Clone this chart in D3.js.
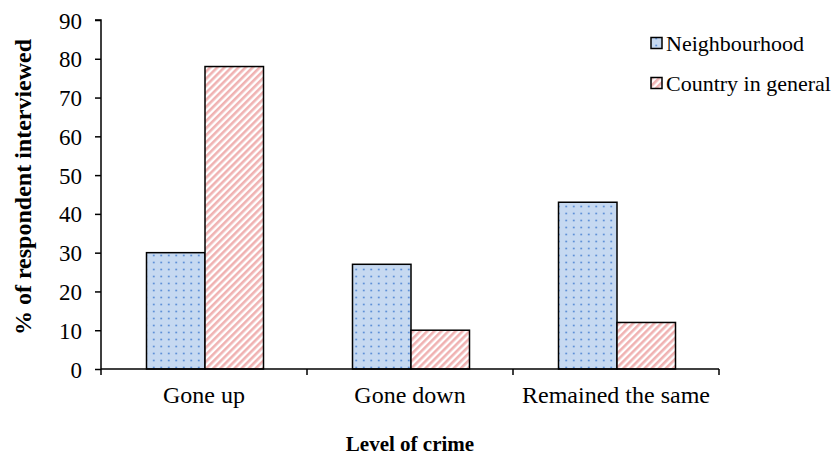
<!DOCTYPE html>
<html><head><meta charset="utf-8">
<script src="https://cdn.jsdelivr.net/npm/d3@7"></script>
<style>body{margin:0;background:#fff}svg{display:block}svg text{font-family:"Times New Roman","Liberation Serif","DejaVu Serif",serif !important;fill:#000}</style>
</head><body>
<script>
const categories = ["Gone up", "Gone down", "Remained the same"];
const seriesNames = ["Neighbourhood", "Country in general"];
const neighbourhood = [30, 27, 43];
const country = [78, 10, 12];
const yTicks = [0, 10, 20, 30, 40, 50, 60, 70, 80, 90];

const W = 836, H = 457;
const m = {left: 101, right: 117, top: 20, bottom: 88};
const svg = d3.select("body").append("svg").attr("width", W).attr("height", H);
const defs = svg.append("defs");

const pDots = defs.append("pattern").attr("id", "dots").attr("patternUnits", "userSpaceOnUse")
  .attr("width", 7.5).attr("height", 7);
pDots.append("rect").attr("width", 7.5).attr("height", 7).attr("fill", "#c6d9f1");
pDots.append("circle").attr("cx", 3.75).attr("cy", 3.5).attr("r", 1).attr("fill", "#5b8ed6");

const pStripe = defs.append("pattern").attr("id", "stripes").attr("patternUnits", "userSpaceOnUse")
  .attr("width", 5).attr("height", 5).attr("patternTransform", "rotate(45)");
pStripe.append("rect").attr("width", 5).attr("height", 5).attr("fill", "#fff");
pStripe.append("rect").attr("width", 2.6).attr("height", 5).attr("fill", "#f0b2b2");

const fills = ["url(#dots)", "url(#stripes)"];

const x = d3.scaleBand().domain(categories).range([m.left, W - m.right]).paddingInner(0).paddingOuter(0);
const y = d3.scaleLinear().domain([0, 90]).range([H - m.bottom, m.top]);
const bw = 58.5;
const xs = d3.scaleBand().domain(seriesNames).range([0, bw * 2]);

const data = [neighbourhood, country];
const g = svg.append("g");
categories.forEach((c, i) => {
  const off = x(c) + (x.bandwidth() - bw * 2) / 2 + 1;
  seriesNames.forEach((s, j) => {
    g.append("rect")
      .attr("x", off + xs(s)).attr("y", y(data[j][i]))
      .attr("width", xs.bandwidth()).attr("height", y(0) - y(data[j][i]))
      .attr("fill", fills[j]).attr("stroke", "#000").attr("stroke-width", 1.5);
  });
});

// y axis
const ya = svg.append("g").attr("transform", `translate(${m.left},0)`)
  .call(d3.axisLeft(y).tickValues(yTicks).tickSize(6).tickPadding(13));
ya.attr("font-family", null);
ya.select(".domain").attr("stroke", "#000").attr("stroke-width", 1.5).attr("d", `M-6,${y(90)}H0V${y(0)}`);
ya.selectAll(".tick line").attr("stroke", "#000").attr("stroke-width", 1.5);
ya.selectAll(".tick text").style("font-size", "23px").attr("dy", "0.35em");

// x axis
const xa = svg.append("g").attr("transform", `translate(0,${y(0)})`);
xa.append("line").attr("x1", m.left).attr("x2", W - m.right).attr("stroke", "#000").attr("stroke-width", 1.5);
const bounds = categories.map(c => x(c)).concat([x(categories[categories.length - 1]) + x.bandwidth()]);
xa.selectAll(".xt").data(bounds).enter().append("line")
  .attr("x1", d => d).attr("x2", d => d).attr("y1", 0).attr("y2", 6)
  .attr("stroke", "#000").attr("stroke-width", 1.5);
xa.selectAll(".xl").data(categories).enter().append("text")
  .attr("x", d => x(d) + x.bandwidth() / 2).attr("y", 34)
  .attr("text-anchor", "middle").style("font-size", "24px").text(d => d);

// axis titles
svg.append("text").attr("x", (m.left + W - m.right) / 2).attr("y", 451)
  .attr("text-anchor", "middle").style("font-size", "21px").style("font-weight", "bold").text("Level of crime");
svg.append("text").attr("transform", `translate(31,187) rotate(-90)`)
  .attr("text-anchor", "middle").style("font-size", "24px").style("font-weight", "bold").text("% of respondent interviewed");

// legend
const lg = svg.append("g");
seriesNames.forEach((s, j) => {
  const yy = 43 + j * 40;
  lg.append("rect").attr("x", 651).attr("y", yy - 5.5).attr("width", 11).attr("height", 11)
    .attr("fill", fills[j]).attr("stroke", "#000").attr("stroke-width", 1.5);
  lg.append("text").attr("x", 666).attr("y", yy).attr("dy", "0.35em").style("font-size", "22px").text(s);
});
</script>
</body></html>
